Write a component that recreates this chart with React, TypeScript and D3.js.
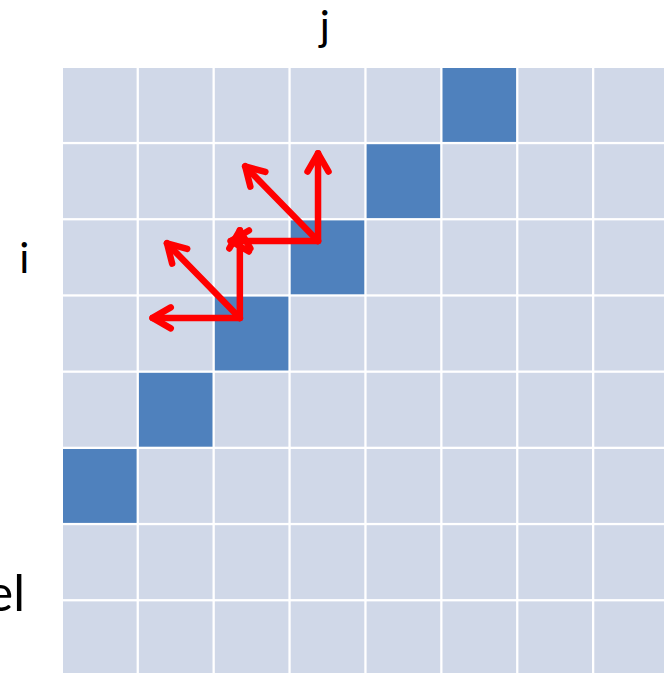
import { useEffect, useRef } from "react";
import * as d3 from "d3";

// grid of 8 x 8 cells, dark cells on the anti-diagonal (row + col = 5)
const rows = [0, 1, 2, 3, 4, 5, 6, 7];
const cols = [0, 1, 2, 3, 4, 5, 6, 7];
const darkCells = [
  { row: 0, col: 5 },
  { row: 1, col: 4 },
  { row: 2, col: 3 },
  { row: 3, col: 2 },
  { row: 4, col: 1 },
  { row: 5, col: 0 },
];

// arrow origins (in cell units) and their three directions: left, up-left, up
const arrowOrigins = [
  { col: 2.33, row: 3.28 },
  { col: 3.36, row: 2.27 },
];
const arrowDirs = [
  { dc: -1.15, dr: 0 },
  { dc: -0.96, dr: -0.98 },
  { dc: 0, dr: -1.15 },
];

const labels = [
  { text: "j", col: 3.45, row: -0.355, size: 42, anchor: "middle" },
  { text: "i", col: -0.51, row: 2.69, size: 42, anchor: "middle" },
  { text: "el", col: -0.5, row: 7.13, size: 50, anchor: "end" },
];

export default function App() {
  const svgRef = useRef<SVGSVGElement>(null);
  const width = 664;
  const height = 673;

  useEffect(() => {
    const pitchX = 75.9;
    const pitchY = 76.2;
    const gap = 2.3;
    const x = d3.scaleLinear().domain([0, 1]).range([63, 63 + pitchX]);
    const y = d3.scaleLinear().domain([0, 1]).range([68, 68 + pitchY]);

    const svg = d3.select(svgRef.current);
    svg.selectAll("*").remove();

    const isDark = (r: number, c: number) =>
      darkCells.some((d) => d.row === r && d.col === c);

    const cells = rows.flatMap((r) => cols.map((c) => ({ r, c })));
    svg
      .append("g")
      .selectAll("rect")
      .data(cells)
      .join("rect")
      .attr("x", (d) => x(d.c))
      .attr("y", (d) => y(d.r))
      .attr("width", pitchX - gap)
      .attr("height", pitchY - gap)
      .attr("fill", (d) => (isDark(d.r, d.c) ? "#4F81BD" : "#D0D8E8"));

    // labels
    svg
      .append("g")
      .selectAll("text")
      .data(labels)
      .join("text")
      .attr("x", (d) => x(d.col))
      .attr("y", (d) => y(d.row))
      .attr("text-anchor", (d) => d.anchor)
      .style("font-family", "Lato, 'Open Sans', sans-serif")
      .style("font-size", (d) => `${d.size}px`)
      .style("fill", "#000")
      .text((d) => d.text);

    // arrows
    const arrows = arrowOrigins.flatMap((o) =>
      arrowDirs.map((d) => ({
        x1: x(o.col),
        y1: y(o.row),
        x2: x(o.col + d.dc),
        y2: y(o.row + d.dr),
      }))
    );
    const ag = svg
      .append("g")
      .attr("stroke", "#FF0000")
      .attr("stroke-width", 6.5)
      .attr("fill", "none")
      .attr("stroke-linecap", "round")
      .attr("stroke-linejoin", "round");

    ag.selectAll("line")
      .data(arrows)
      .join("line")
      .attr("x1", (d) => d.x1)
      .attr("y1", (d) => d.y1)
      .attr("x2", (d) => d.x2)
      .attr("y2", (d) => d.y2);

    const headLen = 21;
    const headAng = (30 * Math.PI) / 180;
    ag.selectAll("path")
      .data(arrows)
      .join("path")
      .attr("d", (d) => {
        const a = Math.atan2(d.y1 - d.y2, d.x1 - d.x2);
        const p = d3.path();
        p.moveTo(d.x2 + headLen * Math.cos(a + headAng), d.y2 + headLen * Math.sin(a + headAng));
        p.lineTo(d.x2, d.y2);
        p.lineTo(d.x2 + headLen * Math.cos(a - headAng), d.y2 + headLen * Math.sin(a - headAng));
        return p.toString();
      });
  }, []);

  return (
    <svg
      ref={svgRef}
      width={width}
      height={height}
      style={{ position: "absolute", left: 0, top: 0, display: "block", background: "#fff" }}
    ></svg>
  );
}
